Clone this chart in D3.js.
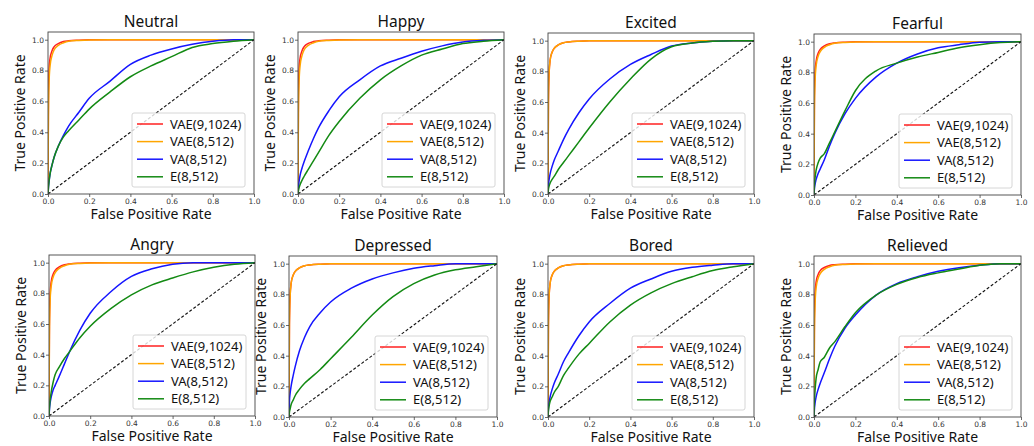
<!DOCTYPE html>
<html>
<head>
<meta charset="utf-8">
<script src="https://cdn.jsdelivr.net/npm/d3@7"></script>
<style>
  body { margin: 0; background: #fff; }
  text { font-family: "Noto Sans", sans-serif; }
</style>
</head>
<body>
<svg id="chart" width="1034" height="446"></svg>
<script>
// panel titles and legend entries
const emotions = ["Neutral", "Happy", "Excited", "Fearful", "Angry", "Depressed", "Bored", "Relieved"];
const seriesNames = ["VAE(9,1024)", "VAE(8,512)", "VA(8,512)", "E(8,512)"];
const seriesColors = ["#ff2020", "#ffa500", "#1515ff", "#138a13"];
const tickValues = [0, 0.2, 0.4, 0.6, 0.8, 1.0];

// shared false positive rate grid
const fpr = [0, 0.002, 0.005, 0.01, 0.02, 0.03, 0.05, 0.075, 0.1, 0.15, 0.2, 0.3, 0.4, 0.5, 0.6, 0.7, 0.8, 0.9, 1.0];

// true positive rates, one row per emotion
const vae9 = [
  [0, 0.6, 0.8, 0.88, 0.93, 0.955, 0.975, 0.988, 0.993, 0.997, 0.999, 1, 1, 1, 1, 1, 1, 1, 1],
  [0, 0.62, 0.8, 0.88, 0.93, 0.955, 0.976, 0.988, 0.993, 0.997, 0.999, 1, 1, 1, 1, 1, 1, 1, 1],
  [0, 0.6, 0.78, 0.87, 0.925, 0.95, 0.972, 0.986, 0.992, 0.997, 0.999, 1, 1, 1, 1, 1, 1, 1, 1],
  [0, 0.64, 0.8, 0.87, 0.925, 0.95, 0.972, 0.986, 0.992, 0.997, 0.999, 1, 1, 1, 1, 1, 1, 1, 1],
  [0, 0.58, 0.78, 0.87, 0.925, 0.95, 0.972, 0.986, 0.992, 0.997, 0.999, 1, 1, 1, 1, 1, 1, 1, 1],
  [0, 0.6, 0.78, 0.87, 0.925, 0.95, 0.972, 0.986, 0.992, 0.997, 0.999, 1, 1, 1, 1, 1, 1, 1, 1],
  [0, 0.6, 0.78, 0.87, 0.925, 0.95, 0.972, 0.986, 0.992, 0.997, 0.999, 1, 1, 1, 1, 1, 1, 1, 1],
  [0, 0.64, 0.8, 0.88, 0.93, 0.955, 0.975, 0.988, 0.993, 0.997, 0.999, 1, 1, 1, 1, 1, 1, 1, 1]
];
const vae8 = [
  [0, 0.5, 0.72, 0.83, 0.9, 0.935, 0.963, 0.98, 0.99, 0.995, 0.998, 1, 1, 1, 1, 1, 1, 1, 1],
  [0, 0.52, 0.72, 0.83, 0.9, 0.935, 0.963, 0.98, 0.99, 0.995, 0.998, 1, 1, 1, 1, 1, 1, 1, 1],
  [0, 0.6, 0.78, 0.87, 0.925, 0.95, 0.972, 0.986, 0.992, 0.997, 0.999, 1, 1, 1, 1, 1, 1, 1, 1],
  [0, 0.55, 0.74, 0.84, 0.905, 0.935, 0.963, 0.98, 0.99, 0.995, 0.998, 1, 1, 1, 1, 1, 1, 1, 1],
  [0, 0.52, 0.74, 0.84, 0.905, 0.935, 0.963, 0.98, 0.99, 0.995, 0.998, 1, 1, 1, 1, 1, 1, 1, 1],
  [0, 0.6, 0.78, 0.87, 0.925, 0.95, 0.972, 0.986, 0.992, 0.997, 0.999, 1, 1, 1, 1, 1, 1, 1, 1],
  [0, 0.6, 0.78, 0.87, 0.925, 0.95, 0.972, 0.986, 0.992, 0.997, 0.999, 1, 1, 1, 1, 1, 1, 1, 1],
  [0, 0.55, 0.73, 0.84, 0.905, 0.935, 0.963, 0.98, 0.99, 0.995, 0.998, 1, 1, 1, 1, 1, 1, 1, 1]
];
const va8 = [
  [0, 0.04, 0.08, 0.13, 0.19, 0.24, 0.31, 0.38, 0.44, 0.53, 0.62, 0.73, 0.84, 0.9, 0.94, 0.97, 0.99, 1.0, 1.0],
  [0, 0.04, 0.08, 0.12, 0.17, 0.21, 0.28, 0.36, 0.43, 0.54, 0.63, 0.74, 0.83, 0.88, 0.925, 0.96, 0.985, 0.996, 1.0],
  [0, 0.05, 0.09, 0.13, 0.18, 0.22, 0.28, 0.355, 0.42, 0.53, 0.62, 0.75, 0.845, 0.91, 0.965, 0.985, 0.996, 1.0, 1.0],
  [0, 0.04, 0.07, 0.1, 0.14, 0.17, 0.23, 0.32, 0.4, 0.53, 0.63, 0.77, 0.86, 0.92, 0.96, 0.98, 0.996, 1.0, 1.0],
  [0, 0.04, 0.08, 0.12, 0.17, 0.2, 0.26, 0.34, 0.42, 0.56, 0.67, 0.81, 0.91, 0.96, 0.99, 1.0, 1.0, 1.0, 1.0],
  [0, 0.1, 0.15, 0.2, 0.27, 0.33, 0.43, 0.52, 0.59, 0.68, 0.75, 0.84, 0.9, 0.94, 0.97, 0.987, 1.0, 1.0, 1.0],
  [0, 0.05, 0.09, 0.13, 0.18, 0.22, 0.28, 0.36, 0.42, 0.53, 0.62, 0.74, 0.84, 0.9, 0.95, 0.976, 0.99, 1.0, 1.0],
  [0, 0.05, 0.09, 0.13, 0.18, 0.22, 0.29, 0.38, 0.46, 0.58, 0.665, 0.795, 0.87, 0.915, 0.95, 0.974, 0.99, 1.0, 1.0]
];
const e8 = [
  [0, 0.04, 0.08, 0.13, 0.19, 0.24, 0.31, 0.37, 0.41, 0.48, 0.55, 0.66, 0.76, 0.83, 0.89, 0.95, 0.975, 0.99, 1.0],
  [0, 0.02, 0.04, 0.06, 0.09, 0.115, 0.16, 0.215, 0.27, 0.38, 0.47, 0.62, 0.74, 0.83, 0.9, 0.94, 0.975, 0.99, 1.0],
  [0, 0.03, 0.05, 0.07, 0.095, 0.115, 0.16, 0.205, 0.25, 0.34, 0.43, 0.6, 0.75, 0.88, 0.96, 0.985, 0.996, 1.0, 1.0],
  [0, 0.06, 0.11, 0.16, 0.21, 0.24, 0.27, 0.34, 0.41, 0.55, 0.68, 0.81, 0.86, 0.9, 0.93, 0.96, 0.98, 0.994, 1.0],
  [0, 0.05, 0.1, 0.15, 0.22, 0.27, 0.32, 0.375, 0.42, 0.51, 0.585, 0.7, 0.79, 0.855, 0.9, 0.94, 0.97, 0.99, 1.0],
  [0, 0.03, 0.05, 0.08, 0.11, 0.14, 0.18, 0.22, 0.25, 0.31, 0.38, 0.52, 0.665, 0.785, 0.87, 0.926, 0.96, 0.98, 1.0],
  [0, 0.04, 0.07, 0.1, 0.13, 0.16, 0.2, 0.27, 0.32, 0.41, 0.48, 0.62, 0.73, 0.81, 0.87, 0.915, 0.955, 0.98, 1.0],
  [0, 0.1, 0.17, 0.25, 0.31, 0.36, 0.39, 0.45, 0.49, 0.59, 0.68, 0.795, 0.865, 0.91, 0.94, 0.965, 0.99, 1.0, 1.0]
];

// axes boxes [left, top, right, bottom] in page pixels
const boxes = [
  [48, 32, 254, 194], [298, 32, 504, 194], [548, 33, 754, 194], [814, 34, 1021, 195],
  [49, 255, 255, 416], [289, 256, 497, 417], [548, 256, 754, 417], [814, 256, 1021, 417]
];

const svg = d3.select("#chart");
svg.append("rect").attr("width", 1034).attr("height", 446).attr("fill", "#fff");

const allSeries = [vae9, vae8, va8, e8];

emotions.forEach(function(name, i) {
  const [l, t, r, b] = boxes[i];
  const w = r - l, h = b - t;
  const g = svg.append("g").attr("transform", "translate(" + l + "," + t + ")");

  const x = d3.scaleLinear().domain([0, 1]).range([0, w]);
  const y = d3.scaleLinear().domain([0, 1.05]).range([h, 0]);

  // axes
  const xa = g.append("g")
      .attr("transform", "translate(0," + h + ")")
      .call(d3.axisBottom(x).tickValues(tickValues).tickFormat(d3.format(".1f")).tickSizeOuter(0).tickSize(3));
  const ya = g.append("g")
      .call(d3.axisLeft(y).tickValues(tickValues).tickFormat(d3.format(".1f")).tickSizeOuter(0).tickSize(3));
  [xa, ya].forEach(function(a) {
    a.select(".domain").remove();
    a.selectAll(".tick line").attr("stroke", "#444").attr("stroke-width", 0.8);
    a.selectAll(".tick text")
      .attr("fill", "#333")
      .style("font-family", "DejaVu Sans, sans-serif")
      .style("font-size", "7.5px");
  });
  xa.selectAll(".tick text").attr("dy", "0.9em").attr("y", 3);
  ya.selectAll(".tick text").attr("x", -4);

  g.append("clipPath").attr("id", "clip" + i)
    .append("rect").attr("width", w).attr("height", h);

  const plot = g.append("g").attr("clip-path", "url(#clip" + i + ")");

  const line = d3.line()
      .x(function(d) { return x(d[0]); })
      .y(function(d) { return y(d[1]); })
      .curve(d3.curveMonotoneX);

  allSeries.forEach(function(s, k) {
    const pts = fpr.map(function(f, j) { return [f, s[i][j]]; });
    plot.append("path")
      .attr("d", line(pts))
      .attr("fill", "none")
      .attr("stroke", seriesColors[k])
      .attr("stroke-width", 1.5);
  });

  // chance line
  plot.append("line")
    .attr("x1", x(0)).attr("y1", y(0)).attr("x2", x(1)).attr("y2", y(1))
    .attr("stroke", "#111").attr("stroke-width", 1.1)
    .attr("stroke-dasharray", "3,2");

  // frame
  g.append("rect").attr("width", w).attr("height", h)
    .attr("fill", "none").attr("stroke", "#444").attr("stroke-width", 0.9);

  // title and axis labels
  g.append("text")
    .attr("x", w / 2).attr("y", -5)
    .attr("text-anchor", "middle")
    .style("font-size", "15.5px").attr("fill", "#111")
    .text(name);
  g.append("text")
    .attr("x", w / 2).attr("y", h + 25)
    .attr("text-anchor", "middle")
    .style("font-size", "14px").attr("fill", "#111")
    .text("False Positive Rate");
  g.append("text")
    .attr("transform", "translate(-23," + (h / 2) + ") rotate(-90)")
    .attr("text-anchor", "middle")
    .style("font-size", "14px").attr("fill", "#111")
    .text("True Positive Rate");

  // legend
  const lw = 113, lh = 74;
  const lg = g.append("g").attr("transform", "translate(" + (w - 9 - lw) + "," + (h - 7 - lh) + ")");
  lg.append("rect").attr("width", lw).attr("height", lh).attr("rx", 2)
    .attr("fill", "rgba(255,255,255,0.8)").attr("stroke", "#ccc").attr("stroke-width", 0.8);
  seriesNames.forEach(function(sn, k) {
    const cy = 11 + k * 17.6;
    lg.append("line").attr("x1", 5).attr("x2", 31).attr("y1", cy).attr("y2", cy)
      .attr("stroke", seriesColors[k]).attr("stroke-width", 1.5);
    lg.append("text").attr("x", 38).attr("y", cy).attr("dy", "0.35em")
      .style("font-size", "13px").attr("fill", "#111")
      .text(sn);
  });
});
</script>
</body>
</html>
